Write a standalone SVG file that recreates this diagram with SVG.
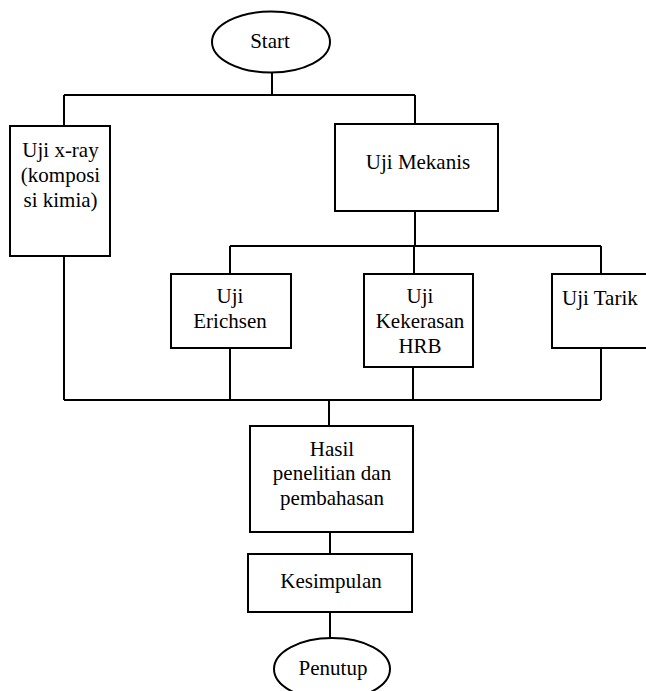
<svg xmlns="http://www.w3.org/2000/svg" width="646" height="691" viewBox="0 0 646 691" font-family="Liberation Serif, Times New Roman, DejaVu Serif, serif" font-size="21">
<style>
.box{fill:#fff;stroke:#000;stroke-width:2}
.ln{fill:none;stroke:#000;stroke-width:2}
.c{text-anchor:middle}
</style>
<rect width="646" height="691" fill="#fff"/>
<g id="connectors">
<path class="ln" d="M272 73V95M64 95H415M64 95V126M415 95V124"/>
<path class="ln" d="M415 211V246M230 246H601M230 246V274M414 246V274M601 246V274"/>
<path class="ln" d="M64 256V400M230 348V400M413 367V400M601 348V400M64 400H601"/>
<path class="ln" d="M329 400V426M330 532V554M330 612V638"/>
</g>
<g id="start">
<ellipse class="box" cx="271" cy="42" rx="59" ry="30.5"/>
<text class="c" x="270" y="48">Start</text>
</g>
<g id="xray">
<rect class="box" x="10" y="126" width="100" height="130"/>
<text class="c" x="60.5" y="157">Uji x-ray</text>
<text class="c" x="60.5" y="182">(komposi</text>
<text class="c" x="60.5" y="207">si kimia)</text>
</g>
<g id="mekanis">
<rect class="box" x="335" y="124" width="163" height="87"/>
<text class="c" x="418" y="169">Uji Mekanis</text>
</g>
<g id="erichsen">
<rect class="box" x="171" y="274" width="120" height="74"/>
<text class="c" x="230" y="303">Uji</text>
<text class="c" x="230" y="328">Erichsen</text>
</g>
<g id="kekerasan">
<rect class="box" x="364" y="274" width="109" height="93"/>
<text class="c" x="420" y="303">Uji</text>
<text class="c" x="420" y="328">Kekerasan</text>
<text class="c" x="420" y="353">HRB</text>
</g>
<g id="tarik">
<rect class="box" x="552" y="274" width="110" height="74"/>
<text x="562" y="305">Uji Tarik</text>
</g>
<g id="hasil">
<rect class="box" x="250" y="426" width="163" height="106"/>
<text class="c" x="332" y="456">Hasil</text>
<text class="c" x="332" y="480">penelitian dan</text>
<text class="c" x="332" y="505">pembahasan</text>
</g>
<g id="kesimpulan">
<rect class="box" x="248" y="554" width="164" height="58"/>
<text class="c" x="331" y="588">Kesimpulan</text>
</g>
<g id="penutup">
<ellipse class="box" cx="332" cy="669" rx="58" ry="31"/>
<text class="c" x="333" y="675">Penutup</text>
</g>
</svg>
